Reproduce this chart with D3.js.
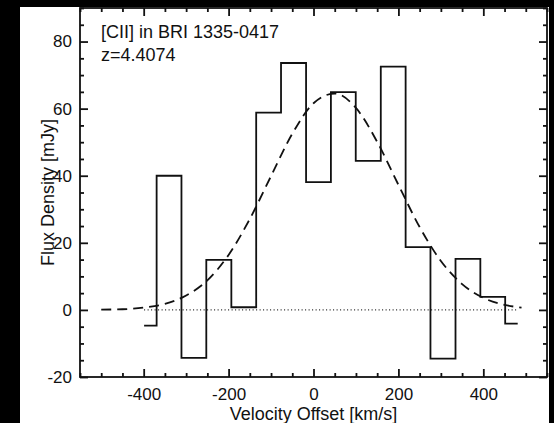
<!DOCTYPE html>
<html>
<head>
<meta charset="utf-8">
<title>[CII] in BRI 1335-0417</title>
<script src="https://cdn.jsdelivr.net/npm/d3@7"></script>
<style>
    body { margin: 0; background: #000; }
    svg { display: block; }
    svg text { font-family: "Liberation Sans", Arial, sans-serif; fill: #111; }
    .axis path { display: none; }
    .axis line { stroke: #111; stroke-width: 1.8; }
</style>
</head>
<body>
<div id="chart"></div>
<script>
// spectrum channels (km/s) and flux (mJy)
var velocity = [-399, -340, -282, -223, -164, -106, -47, 12, 70, 129, 188, 246, 305, 364, 422, 481];
var flux = [-4.7, 40, -14.3, 14.9, 0.8, 58.8, 73.6, 38.1, 64.9, 44.4, 72.5, 18.7, -14.5, 15.2, 3.9, -4.1];

// gaussian fit
var fitVelocity = [-500, -450, -400, -350, -300, -250, -200, -150, -100, -50, 0, 50, 100, 150, 200, 250, 300, 350, 400, 450, 490];
var fitFlux = [0.1, 0.2, 0.7, 1.8, 4.3, 8.8, 16.4, 27.1, 39.9, 52.5, 61.6, 64.5, 60.2, 50.1, 37.3, 24.7, 14.6, 7.7, 3.6, 1.5, 0.7];

var xMajor = [-400, -200, 0, 200, 400];
var yMajor = [-20, 0, 20, 40, 60, 80];

var W = 554, H = 423;
var pLeft = 80, pRight = 547, pTop = 8, pBottom = 377;

var svg = d3.select("#chart").append("svg")
    .attr("width", W).attr("height", H);

svg.append("rect")
    .attr("x", 20).attr("y", 7)
    .attr("width", 529).attr("height", H - 7)
    .attr("fill", "#fff");

var x = d3.scaleLinear().domain([-550, 550]).range([pLeft, pRight]);
var y = d3.scaleLinear().domain([-20, 90]).range([pBottom, pTop]);

var xMinor = d3.range(-550, 551, 50).filter(function (v) { return xMajor.indexOf(v) < 0; });
var yMinor = d3.range(-20, 91, 5).filter(function (v) { return yMajor.indexOf(v) < 0; });

var plain = function (d) { return String(d); };

// frame
svg.append("rect")
    .attr("x", pLeft).attr("y", pTop)
    .attr("width", pRight - pLeft).attr("height", pBottom - pTop)
    .attr("fill", "none").attr("stroke", "#111").attr("stroke-width", 1.8);

// bottom axis
svg.append("g").attr("class", "axis")
    .attr("transform", "translate(0," + pBottom + ")")
    .call(d3.axisBottom(x).tickValues(xMajor).tickSize(-8).tickPadding(11).tickFormat(plain))
    .selectAll("text").style("font-size", "17px");
svg.append("g").attr("class", "axis")
    .attr("transform", "translate(0," + pBottom + ")")
    .call(d3.axisBottom(x).tickValues(xMinor).tickSize(-4).tickFormat(""));
// top axis
svg.append("g").attr("class", "axis")
    .attr("transform", "translate(0," + pTop + ")")
    .call(d3.axisTop(x).tickValues(xMajor).tickSize(-8).tickFormat(""));
svg.append("g").attr("class", "axis")
    .attr("transform", "translate(0," + pTop + ")")
    .call(d3.axisTop(x).tickValues(xMinor).tickSize(-4).tickFormat(""));

// left axis
svg.append("g").attr("class", "axis")
    .attr("transform", "translate(" + pLeft + ",0)")
    .call(d3.axisLeft(y).tickValues(yMajor).tickSize(-8).tickPadding(8).tickFormat(plain))
    .selectAll("text").style("font-size", "17px");
svg.append("g").attr("class", "axis")
    .attr("transform", "translate(" + pLeft + ",0)")
    .call(d3.axisLeft(y).tickValues(yMinor).tickSize(-4).tickFormat(""));
// right axis
svg.append("g").attr("class", "axis")
    .attr("transform", "translate(" + pRight + ",0)")
    .call(d3.axisRight(y).tickValues(yMajor).tickSize(-8).tickFormat(""));
svg.append("g").attr("class", "axis")
    .attr("transform", "translate(" + pRight + ",0)")
    .call(d3.axisRight(y).tickValues(yMinor).tickSize(-4).tickFormat(""));

// zero line
svg.append("line")
    .attr("x1", x(velocity[0])).attr("x2", x(velocity[velocity.length - 1]))
    .attr("y1", y(0)).attr("y2", y(0))
    .attr("stroke", "#222").attr("stroke-width", 1.2)
    .attr("stroke-dasharray", "1,2.5");

// histogram
var step = d3.line()
    .x(function (d, i) { return x(velocity[i]); })
    .y(function (d) { return y(d); })
    .curve(d3.curveStep);

svg.append("path")
    .attr("d", step(flux))
    .attr("fill", "none").attr("stroke", "#111").attr("stroke-width", 1.8);

// gaussian fit
var fit = d3.line()
    .x(function (d, i) { return x(fitVelocity[i]); })
    .y(function (d) { return y(d); })
    .curve(d3.curveMonotoneX);

svg.append("path")
    .attr("d", fit(fitFlux))
    .attr("fill", "none").attr("stroke", "#111").attr("stroke-width", 1.8)
    .attr("stroke-dasharray", "10,6");

// labels
svg.append("text")
    .attr("x", 101).attr("y", 37.5)
    .style("font-size", "18px")
    .text("[CII] in BRI 1335-0417");
svg.append("text")
    .attr("x", 101).attr("y", 60.5)
    .style("font-size", "18px")
    .text("z=4.4074");

svg.append("text")
    .attr("x", (pLeft + pRight) / 2).attr("y", 419.5)
    .attr("text-anchor", "middle")
    .style("font-size", "18px")
    .text("Velocity Offset [km/s]");

svg.append("text")
    .attr("transform", "translate(53.5," + ((pTop + pBottom) / 2) + ") rotate(-90)")
    .attr("text-anchor", "middle")
    .style("font-size", "18px")
    .text("Flux Density [mJy]");
</script>
</body>
</html>
